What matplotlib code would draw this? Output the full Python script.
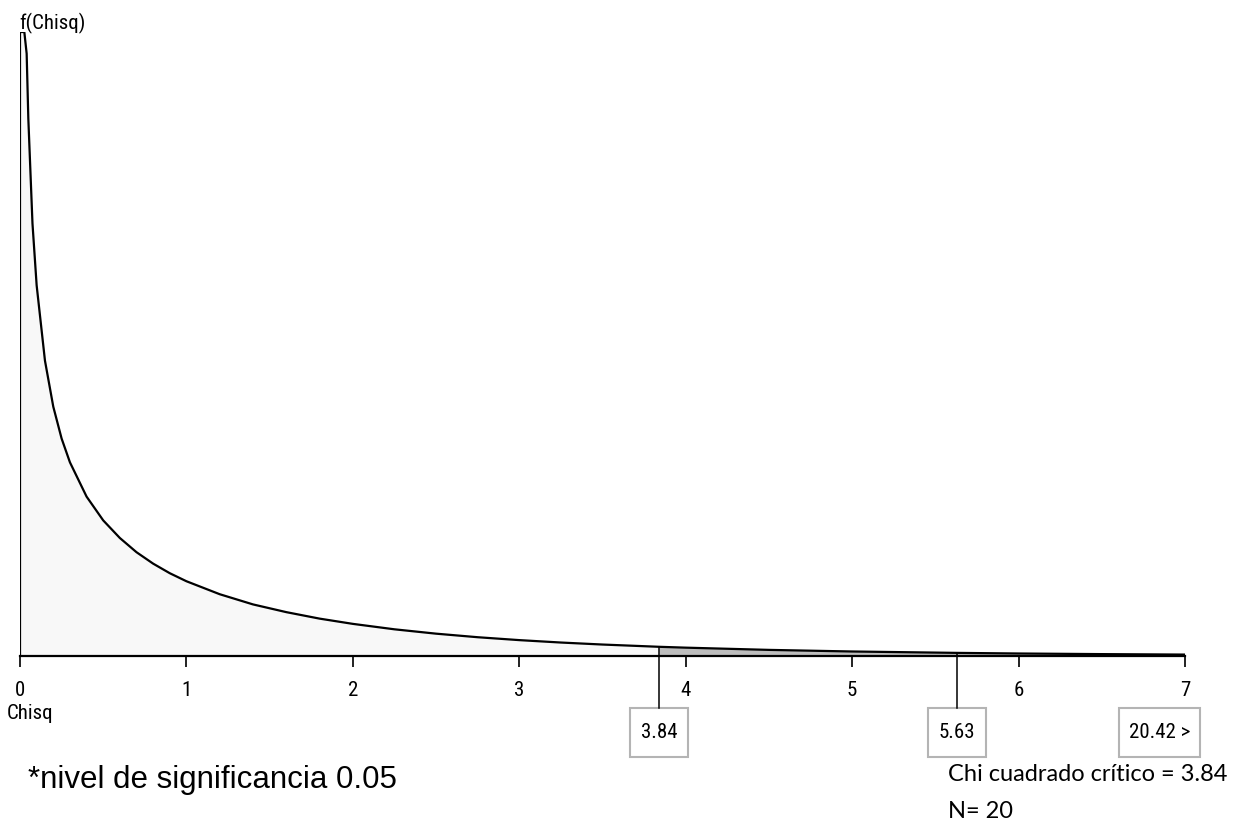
import numpy as np
import matplotlib
matplotlib.use("Agg")
import matplotlib.pyplot as plt
from matplotlib.patches import Rectangle

# ─────────────────────────────────────────────
# Values
# ─────────────────────────────────────────────
chisq_x = [0.0, 0.026, 0.04, 0.05, 0.075, 0.1, 0.15, 0.2, 0.25, 0.3,
           0.4, 0.5, 0.6, 0.7, 0.8, 0.9, 1.0, 1.2, 1.4, 1.6,
           1.8, 2.0, 2.25, 2.5, 2.75, 3.0, 3.25, 3.5, 3.84, 4.0,
           4.5, 5.0, 5.63, 6.0, 6.5, 7.0]
density = [2.02, 2.02, 1.95, 1.74, 1.40, 1.20, 0.956, 0.807, 0.704, 0.627,
           0.516, 0.439, 0.382, 0.336, 0.299, 0.268, 0.242, 0.200, 0.167, 0.142,
           0.121, 0.104, 0.0864, 0.0723, 0.0608, 0.0514, 0.0436, 0.0371, 0.0298, 0.0270,
           0.0198, 0.0146, 0.0101, 0.0081, 0.0061, 0.0046]

x_ticks = [0, 1, 2, 3, 4, 5, 6, 7]
critical_value = 3.84
marker_values = [3.84, 5.63]
marker_labels = ["3.84", "5.63"]
statistic_label = "20.42 >"
ymax = 2.02

narrow = ["Roboto Condensed", "Liberation Sans Narrow", "Liberation Sans", "DejaVu Sans"]
arial = ["Liberation Sans", "DejaVu Sans"]
calibri = ["Lato", "DejaVu Sans"]

W, H = 1246, 823
x = np.array(chisq_x)
y = np.array(density)

fig = plt.figure(figsize=(W / 100, H / 100), dpi=100)
fig.patch.set_facecolor("white")
ax = fig.add_axes([20 / W, (H - 656) / H, 1165 / W, 624 / H])

# ── density area
ax.fill_between(x, y, color="#f8f8f8", lw=0)
ax.fill_between(x, y, where=x >= critical_value, color="#bdbdbd", lw=0)
ax.plot(np.r_[0, x], np.r_[0, y], color="black", lw=1.6, solid_joinstyle="round")

ax.set_xlim(0, 7)
ax.set_ylim(0, ymax)
for s in ["left", "right", "top"]:
    ax.spines[s].set_visible(False)
ax.spines["bottom"].set_linewidth(1.6)
ax.set_yticks([])
ax.set_xticks(x_ticks)
ax.set_xticklabels([str(t) for t in x_ticks], family=narrow, fontsize=15)
ax.tick_params(axis="x", length=8, width=1.4, pad=10, color="#222222")

# ── marker lines and value boxes below the axis
trans = ax.get_xaxis_transform()
px = 624.0
box_w = 58 / 166.43
for v, lab in zip(marker_values, marker_labels):
    top = np.interp(v, x, y) / ymax
    ax.plot([v, v], [top, -52 / px], color="black", lw=1.1,
            transform=trans, clip_on=False)
    ax.add_patch(Rectangle((v - box_w / 2, -101 / px), box_w, 49 / px,
                           transform=trans, clip_on=False,
                           facecolor="white", edgecolor="#b4b4b4", lw=1.5))
    ax.text(v, -77 / px, lab, ha="center", va="center", transform=trans,
            family=narrow, fontsize=15)

ax.add_patch(Rectangle((6.603, -101 / px), 0.487, 49 / px,
                       transform=trans, clip_on=False,
                       facecolor="white", edgecolor="#b4b4b4", lw=1.5))
ax.text(6.846, -77 / px, statistic_label, ha="center", va="center",
        transform=trans, family=narrow, fontsize=15)

# ── texts outside the plot
fig.text(19 / W, 1 - 34 / H, "f(Chisq)", ha="left", va="bottom",
         family=narrow, fontsize=15)
fig.text(7 / W, 1 - 704 / H, "Chisq", ha="left", va="top",
         family=narrow, fontsize=15)
fig.text(28 / W, 1 - 788 / H, "*nivel de significancia 0.05", ha="left",
         va="baseline", family=arial, fontsize=22.5)
fig.text(948 / W, 1 - 781 / H, "Chi cuadrado crítico = 3.84", ha="left",
         va="baseline", family=calibri, fontsize=17)
fig.text(948 / W, 1 - 818 / H, "N= 20", ha="left",
         va="baseline", family=calibri, fontsize=17)

fig.savefig("out.png", dpi=100, facecolor="white")
plt.close(fig)
